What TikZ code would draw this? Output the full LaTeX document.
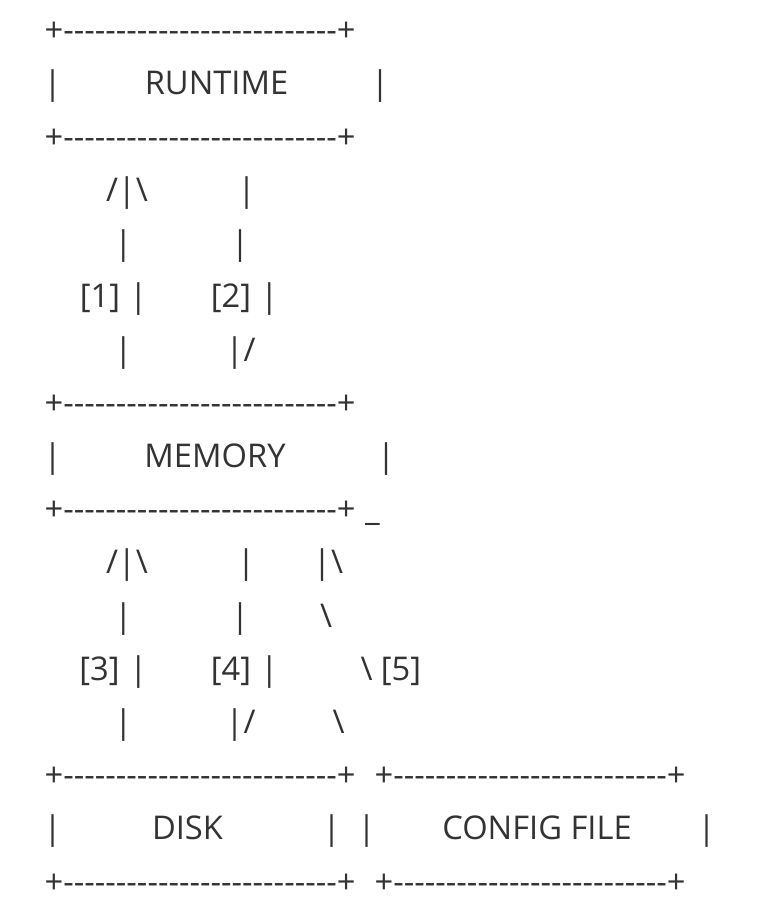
\documentclass[tikz,border=0pt]{standalone}
\usepackage{fontspec}
\setmainfont{Open Sans}[Ligatures=TeXOff]
\definecolor{ink}{RGB}{51,51,51}
\newcommand{\bs}{\textbackslash}
\newcommand{\plusline}{+--------------------------+}
\begin{document}
\begin{tikzpicture}[x={(0.75pt,0)},y={(0,-0.75pt)},
  txt/.style={inner sep=0pt,outer sep=0pt,anchor=base,text=ink,font=\fontsize{24.5pt}{29pt}\selectfont}]
\useasboundingbox[fill=white] (0,0) rectangle (784,916);
% RUNTIME box
\node[txt] (r1) at (200,41.8) {\plusline};
\node[txt] (r2a) at (52.7,95) {|};
\node[txt] (r2b) at (216.5,95) {RUNTIME};
\node[txt] (r2c) at (380,95) {|};
\node[txt] (r3) at (200,148.2) {\plusline};
% arrows 1,2
\node[txt] (a4a) at (127,201.4) {/|\bs};
\node[txt] (a4b) at (246.7,201.4) {|};
\node[txt] (a5a) at (123.3,254.6) {|};
\node[txt] (a5b) at (240,254.6) {|};
\node[txt] (a6a) at (100,307.8) {[1]};
\node[txt] (a6b) at (138.3,307.8) {|};
\node[txt] (a6c) at (231,307.8) {[2]};
\node[txt] (a6d) at (269.3,307.8) {|};
\node[txt] (a7a) at (123.3,361) {|};
\node[txt] (a7b) at (240.5,361) {|/};
% MEMORY box
\node[txt] (m1) at (200,414.2) {\plusline};
\node[txt] (m2a) at (52.7,467.4) {|};
\node[txt] (m2b) at (215,467.4) {MEMORY};
\node[txt] (m2c) at (386,467.4) {|};
\node[txt] (m3) at (200,520.6) {\plusline};
\node[txt] (m3u) at (372.5,520.6) {\_};
% arrows 3,4,5
\node[txt] (b11a) at (127,573.8) {/|\bs};
\node[txt] (b11b) at (246,573.8) {|};
\node[txt] (b11c) at (328,573.8) {|\bs};
\node[txt] (b12a) at (123.3,627) {|};
\node[txt] (b12b) at (240,627) {|};
\node[txt] (b12c) at (326,627) {\bs};
\node[txt] (b13a) at (99.5,680.2) {[3]};
\node[txt] (b13b) at (138.3,680.2) {|};
\node[txt] (b13c) at (231,680.2) {[4]};
\node[txt] (b13d) at (269.3,680.2) {|};
\node[txt] (b13e) at (366.7,680.2) {\bs};
\node[txt] (b13f) at (401,680.2) {[5]};
\node[txt] (b14a) at (123.3,733.4) {|};
\node[txt] (b14b) at (240.5,733.4) {|/};
\node[txt] (b14c) at (338.7,733.4) {\bs};
% DISK and CONFIG FILE boxes
\node[txt] (d1) at (200,786.6) {\plusline};
\node[txt] (c1) at (530,786.6) {\plusline};
\node[txt] (d2a) at (52.7,839.8) {|};
\node[txt] (d2b) at (187.5,839.8) {DISK};
\node[txt] (d2c) at (331.7,839.8) {|};
\node[txt] (c2a) at (366.7,839.8) {|};
\node[txt] (c2b) at (537,839.8) {CONFIG FILE};
\node[txt] (c2c) at (706.7,839.8) {|};
\node[txt] (d3) at (200,893) {\plusline};
\node[txt] (c3) at (530,893) {\plusline};
\end{tikzpicture}
\end{document}
